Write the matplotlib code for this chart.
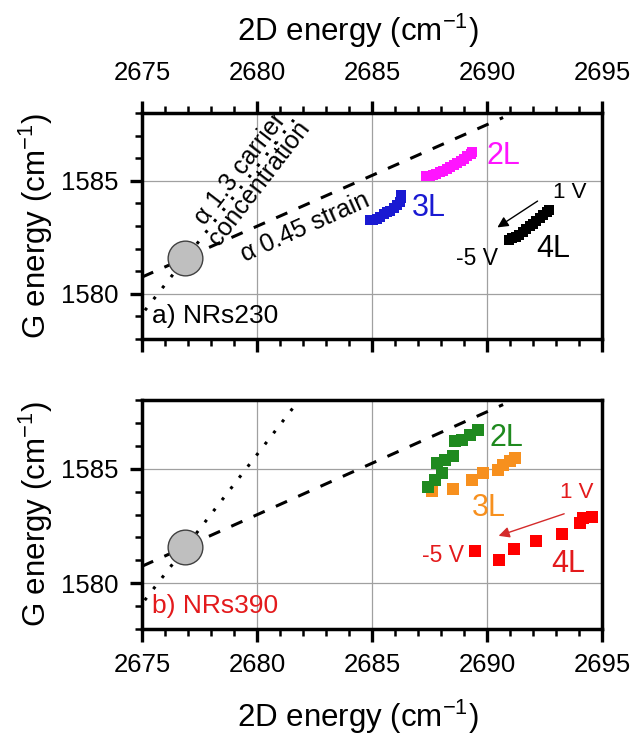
import matplotlib
matplotlib.use("Agg")
import matplotlib.pyplot as plt
from matplotlib.ticker import MultipleLocator

plt.rcParams["font.family"] = ["Liberation Sans", "DejaVu Sans"]
plt.rcParams["mathtext.fontset"] = "custom"
plt.rcParams["mathtext.rm"] = "Liberation Sans"
plt.rcParams["mathtext.default"] = "regular"

# guide lines (2D, G) end points, shared by both panels
strain_x = [2675.0, 2690.7]
strain_y = [1580.74, 1587.8]
carrier_x = [2674.0, 2681.6]
carrier_y = [1577.8, 1587.7]
ref_x = [2676.87]
ref_y = [1581.6]

# panel a) NRs230
a2_x = [2687.35, 2687.5, 2687.65, 2687.8, 2687.95, 2688.1, 2688.25, 2688.4,
        2688.55, 2688.7, 2688.85, 2689.0, 2689.15, 2689.3, 2689.35]
a2_y = [1585.22, 1585.22, 1585.25, 1585.3, 1585.38, 1585.45, 1585.52, 1585.6,
        1585.68, 1585.78, 1585.88, 1585.98, 1586.1, 1586.2, 1586.28]
a3_x = [2684.9, 2685.05, 2685.2, 2685.35, 2685.5, 2685.65, 2685.8, 2685.95,
        2686.1, 2686.2, 2686.25, 2686.25]
a3_y = [1583.25, 1583.28, 1583.33, 1583.42, 1583.52, 1583.6, 1583.68, 1583.78,
        1583.92, 1584.08, 1584.24, 1584.38]
a4_x = [2690.95, 2691.1, 2691.25, 2691.4, 2691.55, 2691.7, 2691.85, 2692.0,
        2692.15, 2692.3, 2692.45, 2692.6, 2692.68]
a4_y = [1582.4, 1582.45, 1582.52, 1582.62, 1582.74, 1582.86, 1582.98, 1583.1,
        1583.22, 1583.35, 1583.48, 1583.6, 1583.72]

# panel b) NRs390
b2_x = [2687.45, 2687.74, 2688.03, 2687.84, 2688.17, 2688.54, 2688.61, 2688.9, 2689.26, 2689.62]
b2_y = [1584.2, 1584.52, 1584.81, 1585.25, 1585.39, 1585.54, 1586.19, 1586.26, 1586.48, 1586.67]
b3_x = [2687.6, 2688.54, 2689.33, 2689.84, 2690.49, 2690.71, 2691.0, 2691.22]
b3_y = [1584.01, 1584.13, 1584.52, 1584.81, 1584.96, 1585.17, 1585.32, 1585.46]
b4_x = [2689.48, 2690.54, 2691.19, 2692.13, 2693.25, 2694.04, 2694.19, 2694.55]
b4_y = [1581.4, 1581.01, 1581.51, 1581.84, 1582.16, 1582.64, 1582.86, 1582.9]

x_ticks = [2675, 2680, 2685, 2690, 2695]
xlabel = "2D energy (cm$^{-1}$)"
ylabel = "G energy (cm$^{-1}$)"

MAGENTA = "#ff14ff"
BLUE = "#1a1ad2"
GREEN = "#1f8a1f"
ORANGE = "#f7901e"
RED = "#ff0000"
RED_TXT = "#e31a1c"

W, H = 634, 737
fig = plt.figure(figsize=(W / 100, H / 100), dpi=100)
ax1 = fig.add_axes([142 / W, 1 - 339 / H, 460 / W, 226 / H])
ax2 = fig.add_axes([142 / W, 1 - 629 / H, 460 / W, 229 / H])


def style(ax):
    ax.set_xlim(2675, 2695)
    ax.set_ylim(1578, 1588)
    ax.set_xticks(x_ticks)
    ax.xaxis.set_minor_locator(MultipleLocator(1))
    ax.yaxis.set_major_locator(MultipleLocator(5))
    ax.yaxis.set_minor_locator(MultipleLocator(1))
    ax.grid(which="major", color="#a0a0a0", lw=0.9, zorder=0)
    ax.set_axisbelow(True)
    for s in ax.spines.values():
        s.set_linewidth(2.5)
    ax.tick_params(which="major", direction="out", length=9, width=2.4,
                   labelsize=18.5, pad=8)
    ax.tick_params(which="minor", direction="out", length=5, width=1.8)
    ax.tick_params(axis="y", which="both", right=False)
    ax.set_ylabel(ylabel, fontsize=22.5)
    ax.yaxis.set_label_coords(-0.19, 0.5)
    # guide lines and reference point
    ax.plot(strain_x, strain_y, color="black", lw=2.2, dashes=(4, 4), zorder=2)
    ax.plot(carrier_x, carrier_y, color="black", lw=2.2, dashes=(1, 3.6), zorder=2)
    ax.plot(ref_x, ref_y, "o", ms=25, mfc="#bfbfbf", mec="#404040", mew=1, zorder=3)


style(ax1)
style(ax2)

# panel a
ax1.tick_params(axis="x", which="both", top=True, labeltop=True,
                bottom=True, labelbottom=False)
ax1.tick_params(axis="x", which="major", pad=11)
ax1.xaxis.set_label_position("top")
ax1.set_xlabel(xlabel, fontsize=22.5)
ax1.xaxis.set_label_coords(0.47, 1.32)

ms_a = 7.5
ax1.plot(a2_x, a2_y, "s", ms=ms_a, color=MAGENTA, mew=0, zorder=4)
ax1.plot(a3_x, a3_y, "s", ms=ms_a, color=BLUE, mew=0, zorder=4)
ax1.plot(a4_x, a4_y, "s", ms=ms_a, color="black", mew=0, zorder=4)

ax1.text(2690.71, 1586.09, "2L", color=MAGENTA, fontsize=22, ha="center", va="center")
ax1.text(2687.45, 1583.78, "3L", color=BLUE, fontsize=22, ha="center", va="center")
ax1.text(2692.88, 1581.98, "4L", color="black", fontsize=22, ha="center", va="center")
ax1.text(2693.6, 1584.49, "1 V", fontsize=16, ha="center", va="center")
ax1.text(2689.55, 1581.55, "-5 V", fontsize=16.5, ha="center", va="center")
ax1.annotate("", xy=(2690.35, 1582.87), xytext=(2692.3, 1584.17),
             arrowprops=dict(arrowstyle="-|>", color="black", lw=1, mutation_scale=16))
ax1.text(2675.45, 1579.0, "a) NRs230", fontsize=19, ha="left", va="center")
ax1.text(2679.7, 1585.2, "\u03b1 1.3 carrier\nconcentration", fontsize=18,
         rotation=52.4, rotation_mode="anchor", ha="center", va="center",
         linespacing=1.0)
ax1.text(2682.09, 1582.96, "\u03b1 0.45 strain", fontsize=18,
         rotation=24.2, rotation_mode="anchor", ha="center", va="center")

# panel b
ax2.tick_params(axis="x", which="both", top=False, bottom=True, labelbottom=True)
ax2.set_xlabel(xlabel, fontsize=22.5)
ax2.xaxis.set_label_coords(0.47, -0.3)

ms_b = 8.4
ax2.plot(b3_x, b3_y, "s", ms=ms_b, color=ORANGE, mew=0, zorder=4)
ax2.plot(b2_x, b2_y, "s", ms=ms_b, color=GREEN, mew=0, zorder=4)
ax2.plot(b4_x, b4_y, "s", ms=ms_b, color=RED, mew=0, zorder=4)

ax2.text(2690.86, 1586.33, "2L", color=GREEN, fontsize=22, ha="center", va="center")
ax2.text(2690.06, 1583.29, "3L", color=ORANGE, fontsize=22, ha="center", va="center")
ax2.text(2693.53, 1580.83, "4L", color=RED_TXT, fontsize=22, ha="center", va="center")
ax2.text(2693.9, 1583.94, "1 V", color=RED_TXT, fontsize=16, ha="center", va="center")
ax2.text(2688.1, 1581.19, "-5 V", color=RED_TXT, fontsize=16.5, ha="center", va="center")
ax2.annotate("", xy=(2690.39, 1582.03), xytext=(2693.47, 1583.07),
             arrowprops=dict(arrowstyle="-|>", color="#d42a2a", lw=1, mutation_scale=16))
ax2.text(2675.45, 1579.0, "b) NRs390", color=RED_TXT, fontsize=19, ha="left", va="center")

fig.savefig("out.png", dpi=100)
